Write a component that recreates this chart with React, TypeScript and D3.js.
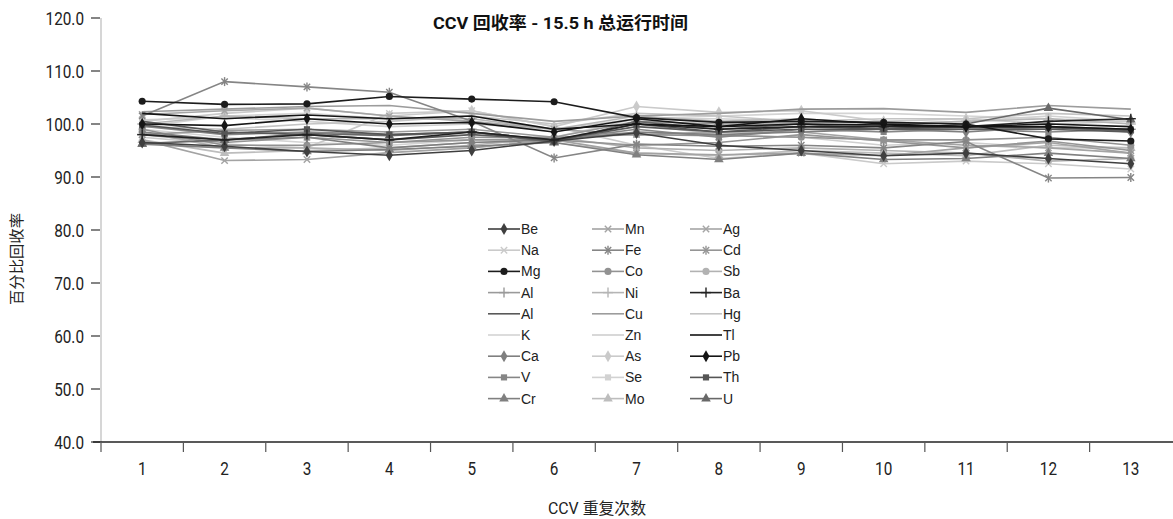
import React, { useEffect, useRef } from "react";
import * as d3 from "d3";

const runs = ["1", "2", "3", "4", "5", "6", "7", "8", "9", "10", "11", "12", "13"];
const yTicks = [40, 50, 60, 70, 80, 90, 100, 110, 120];

const names = [
  "Be", "Na", "Mg", "Al", "Al", "K", "Ca", "V", "Cr",
  "Mn", "Fe", "Co", "Ni", "Cu", "Zn", "As", "Se", "Mo",
  "Ag", "Cd", "Sb", "Ba", "Hg", "Tl", "Pb", "Th", "U",
];

// recovery % per run, one row per element (same order as names)
const values = [
  [96.5, 95.8, 94.8, 94.1, 95.0, 96.8, 98.3, 96.0, 95.0, 94.0, 94.5, 93.5, 92.5],
  [97.5, 96.2, 95.5, 102.0, 102.5, 99.5, 96.0, 93.5, 94.5, 92.5, 93.0, 92.5, 91.5],
  [104.3, 103.7, 103.8, 105.2, 104.7, 104.2, 101.2, 100.3, 100.5, 100.3, 100.0, 97.2, 96.8],
  [98.0, 98.8, 99.0, 98.5, 99.0, 97.5, 100.5, 100.0, 100.0, 99.5, 99.0, 99.5, 99.0],
  [100.5, 98.5, 98.0, 97.0, 98.0, 97.0, 99.5, 98.5, 99.5, 99.0, 99.0, 99.0, 98.5],
  [99.0, 97.5, 96.5, 96.0, 97.0, 97.5, 101.0, 101.5, 102.0, 102.0, 101.5, 101.0, 100.5],
  [98.5, 97.0, 97.5, 95.5, 96.5, 97.0, 98.5, 98.0, 98.5, 99.0, 98.5, 99.5, 98.5],
  [99.6, 98.0, 98.5, 98.0, 98.5, 97.0, 99.0, 97.5, 99.0, 98.5, 99.0, 98.5, 99.0],
  [96.2, 95.5, 94.8, 95.2, 95.8, 96.5, 94.2, 93.3, 94.5, 93.3, 93.5, 94.5, 93.5],
  [97.0, 93.1, 93.3, 94.6, 95.5, 97.0, 94.5, 94.2, 94.5, 94.0, 95.5, 96.5, 94.5],
  [101.5, 108.0, 107.0, 106.0, 100.5, 93.6, 96.2, 95.8, 96.0, 95.5, 96.7, 89.8, 89.9],
  [99.0, 96.0, 96.0, 96.5, 97.5, 97.5, 98.0, 97.8, 97.5, 97.0, 97.0, 97.5, 96.0],
  [100.0, 101.5, 101.0, 101.0, 101.0, 99.0, 101.5, 100.5, 101.0, 100.0, 100.5, 101.0, 100.0],
  [102.3, 102.8, 103.3, 103.5, 102.0, 100.5, 101.5, 102.0, 102.8, 102.9, 102.2, 103.5, 102.8],
  [100.8, 101.2, 100.5, 99.5, 100.0, 99.0, 100.0, 98.0, 97.5, 96.0, 96.5, 95.5, 95.5],
  [100.5, 102.0, 103.0, 101.5, 102.5, 99.5, 103.3, 102.2, 102.5, 100.5, 101.0, 100.0, 100.5],
  [99.5, 101.5, 102.0, 101.0, 101.5, 99.0, 101.0, 101.0, 100.5, 100.0, 100.5, 101.5, 100.5],
  [97.0, 94.5, 95.0, 95.5, 96.5, 96.5, 94.5, 94.0, 95.0, 94.5, 94.0, 96.0, 95.5],
  [101.8, 102.5, 103.0, 101.5, 100.5, 99.0, 98.0, 98.5, 98.5, 97.0, 96.0, 95.5, 94.5],
  [98.0, 96.5, 97.5, 96.5, 97.0, 97.0, 96.0, 96.5, 98.0, 96.8, 95.5, 96.8, 95.0],
  [98.5, 95.5, 95.5, 95.0, 96.0, 97.5, 95.5, 95.0, 95.5, 95.0, 94.5, 93.0, 93.5],
  [98.0, 97.0, 98.0, 97.0, 98.5, 97.0, 100.0, 99.0, 99.5, 99.5, 99.5, 100.5, 101.0],
  [99.5, 99.0, 100.0, 100.5, 101.5, 100.0, 102.0, 101.5, 100.5, 101.0, 101.0, 102.0, 101.5],
  [102.0, 101.0, 101.7, 101.0, 101.5, 99.0, 100.0, 99.5, 100.0, 99.8, 99.5, 100.0, 99.5],
  [100.0, 99.7, 101.0, 100.0, 100.3, 98.5, 101.0, 99.5, 101.0, 100.0, 99.5, 99.5, 99.0],
  [99.8, 98.2, 99.0, 98.0, 98.5, 96.8, 100.0, 98.5, 99.0, 99.0, 99.5, 99.3, 98.8],
  [96.3, 97.0, 98.2, 97.8, 98.5, 96.5, 100.5, 99.0, 100.0, 99.0, 100.0, 103.0, 100.8],
];

const colors = [
  "#3f3f3f", "#cacaca", "#1c1c1c", "#9a9a9a", "#595959", "#d4d4d4", "#7f7f7f", "#868686", "#808080",
  "#a3a3a3", "#858585", "#929292", "#b5b5b5", "#9c9c9c", "#cfcfcf", "#cacaca", "#d2d2d2", "#bdbdbd",
  "#a5a5a5", "#959595", "#b2b2b2", "#222222", "#c4c4c4", "#141414", "#151515", "#555555", "#686868",
];

const markers = [
  "diamond", "x", "circle", "plus", "none", "none", "diamond", "square", "triangle",
  "x", "star", "circle", "plus", "none", "none", "diamond", "square", "triangle",
  "x", "star", "circle", "plus", "none", "none", "diamond", "square", "triangle",
];

const W = 1173;
const H = 519;
const FONT = "Roboto, 'Noto Sans CJK SC', sans-serif";

function drawMarker(g: any, kind: string, x: number, y: number, color: string) {
  if (kind === "none") return;
  const size: Record<string, number> = { diamond: 42, circle: 40, square: 38, triangle: 40 };
  if (kind === "x" || kind === "plus" || kind === "star") {
    const r = kind === "plus" ? 5 : 4.5;
    const list = kind === "x" ? [45, 135] : kind === "plus" ? [0, 90] : [90, 45, 135];
    list.forEach((a) => {
      const rad = (a * Math.PI) / 180;
      g.append("line")
        .attr("x1", x - r * Math.cos(rad)).attr("y1", y - r * Math.sin(rad))
        .attr("x2", x + r * Math.cos(rad)).attr("y2", y + r * Math.sin(rad))
        .attr("stroke", color).attr("stroke-width", 1.4);
    });
    return;
  }
  const type =
    kind === "diamond" ? d3.symbolDiamond :
    kind === "circle" ? d3.symbolCircle :
    kind === "square" ? d3.symbolSquare : d3.symbolTriangle;
  g.append("path")
    .attr("d", d3.symbol().type(type).size(size[kind])())
    .attr("transform", `translate(${x},${y})`)
    .attr("fill", color);
}

export default function App() {
  const ref = useRef<SVGSVGElement>(null);

  useEffect(() => {
    const svg = d3.select(ref.current);
    svg.selectAll("*").remove();

    const left = 101;
    const x = d3.scaleBand().domain(runs).range([left, 1172]);
    const y = d3.scaleLinear().domain([40, 120]).range([442, 18]);

    // y axis
    svg.append("line").attr("x1", left).attr("x2", left).attr("y1", 18).attr("y2", 442)
      .attr("stroke", "#c8c8c8").attr("stroke-width", 1.5);
    yTicks.forEach((t) => {
      svg.append("line").attr("x1", 91).attr("x2", 100).attr("y1", y(t)).attr("y2", y(t))
        .attr("stroke", "#333").attr("stroke-width", 1.2);
      svg.append("text").attr("transform", `translate(84,${y(t) + 6.5}) scale(0.85,1)`)
        .attr("text-anchor", "end").attr("font-family", FONT).attr("font-size", 18)
        .attr("fill", "#222").text(t.toFixed(1));
    });

    // x axis
    svg.append("line").attr("x1", 93).attr("x2", W).attr("y1", 442).attr("y2", 442)
      .attr("stroke", "#222").attr("stroke-width", 1.5);
    runs.forEach((r) => {
      const x0 = x(r)!;
      svg.append("line").attr("x1", x0).attr("x2", x0).attr("y1", 443).attr("y2", 452)
        .attr("stroke", "#555").attr("stroke-width", 1.2);
      svg.append("text")
        .attr("transform", `translate(${x0 + x.bandwidth() / 2},475) scale(0.85,1)`)
        .attr("text-anchor", "middle").attr("font-family", FONT).attr("font-size", 18)
        .attr("fill", "#222").text(r);
    });

    const cx = (i: number) => x(runs[i])! + x.bandwidth() / 2;
    const line = d3.line<number>().x((_, i) => cx(i)).y((v) => y(v));

    // draw lighter series first so dark ones stay on top
    const order = d3.range(names.length).sort(
      (a, b) => d3.hsl(colors[b]).l - d3.hsl(colors[a]).l
    );
    order.forEach((s) => {
      const g = svg.append("g");
      g.append("path").attr("d", line(values[s])!).attr("fill", "none")
        .attr("stroke", colors[s]).attr("stroke-width", 1.6);
      values[s].forEach((v, i) => drawMarker(g, markers[s], cx(i), y(v), colors[s]));
    });

    // legend
    const colX = [488, 592, 690];
    const rowY0 = 229;
    const rowStep = 21.2;
    names.forEach((n, s) => {
      const c = Math.floor(s / 9);
      const r = s % 9;
      const lx = colX[c];
      const ly = rowY0 + r * rowStep;
      const g = svg.append("g");
      g.append("line").attr("x1", lx).attr("x2", lx + 32).attr("y1", ly).attr("y2", ly)
        .attr("stroke", colors[s]).attr("stroke-width", 1.6);
      drawMarker(g, markers[s], lx + 16, ly, colors[s]);
      g.append("text").attr("x", lx + 33).attr("y", ly).attr("dy", "0.36em")
        .attr("font-family", "'Liberation Sans', Arial, sans-serif").attr("font-size", 14)
        .attr("fill", "#222").text(n);
    });

    // titles
    svg.append("text").attr("x", 433).attr("y", 29)
      .attr("textLength", 255).attr("lengthAdjust", "spacingAndGlyphs")
      .attr("font-family", FONT).attr("font-weight", "bold").attr("font-size", 17)
      .attr("fill", "#111").text("CCV 回收率 - 15.5 h 总运行时间");
    svg.append("text").attr("x", 548).attr("y", 514)
      .attr("textLength", 98).attr("lengthAdjust", "spacingAndGlyphs")
      .attr("font-family", FONT).attr("font-size", 16)
      .attr("fill", "#222").text("CCV 重复次数");
    svg.append("text").attr("transform", "translate(22,305) rotate(-90)")
      .attr("textLength", 92).attr("lengthAdjust", "spacingAndGlyphs")
      .attr("font-family", FONT).attr("font-size", 15)
      .attr("fill", "#222").text("百分比回收率");
  }, []);

  return (
    <svg ref={ref} width={W} height={H}
      style={{ position: "absolute", left: 0, top: 0, background: "#fff" }} />
  );
}
